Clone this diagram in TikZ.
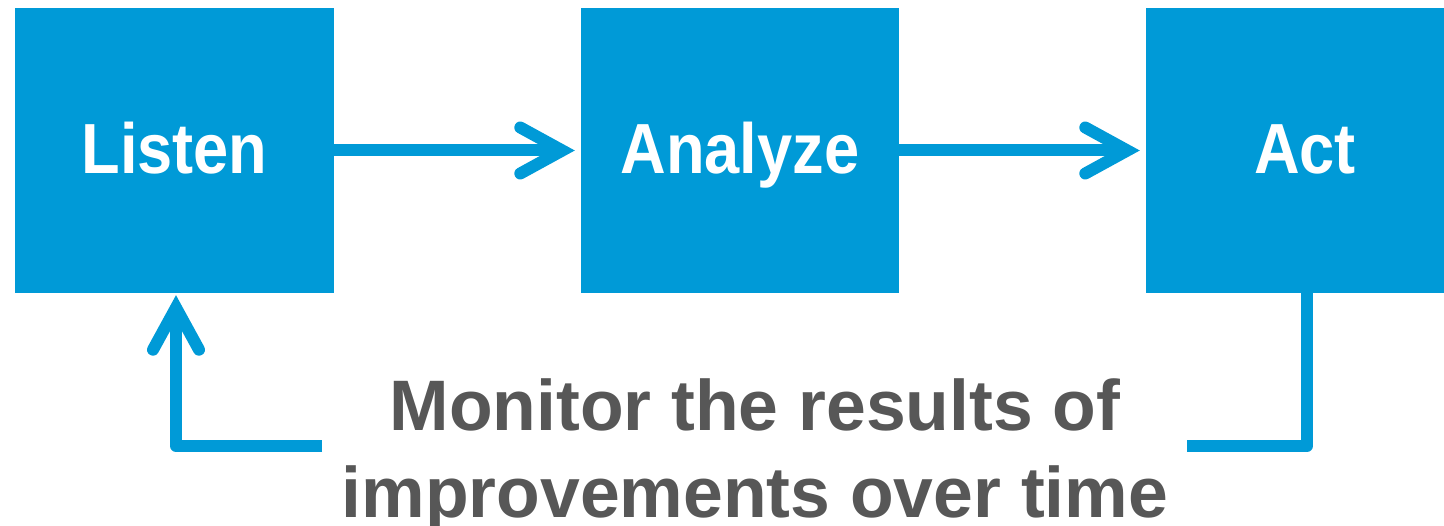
\documentclass[tikz,border=0pt]{standalone}
\usepackage{fontspec}
\setmainfont{Liberation Sans}
\newfontfamily\labelfont[FakeStretch=0.89]{Liberation Sans}
\usetikzlibrary{arrows.meta}
\definecolor{flowblue}{HTML}{009AD7}
\definecolor{notegray}{HTML}{575757}
\tikzset{
  stagebox/.style={rectangle, fill=flowblue, draw=none, inner sep=0pt,
    minimum width=318pt, minimum height=285pt,
    text height=62pt, text depth=15pt,
    text=white, font=\labelfont\bfseries\fontsize{71}{80}\selectfont},
  flowline/.style={draw=flowblue, line width=12pt, line join=round, line cap=butt},
  flowarrow/.style={flowline,
    -{Straight Barb[length=42pt, width=46pt, line cap=round, line join=miter]}},
  notetext/.style={text=notegray, align=center, inner sep=0pt,
    font=\bfseries\fontsize{71.5}{87}\selectfont}
}
\begin{document}
\begin{tikzpicture}[x=1pt, y=-1pt]
  \path[use as bounding box] (0,0) rectangle (1444,526);
  \clip (0,0) rectangle (1444,526);

  % the three stages
  \node[stagebox, minimum width=319pt] (listen)  at (174.5,150.5) {Listen};
  \node[stagebox] (analyze) at (740,150.5) {Analyze};
  \node[stagebox] (act)     at (1305,150.5) {Act};

  % forward flow
  \draw[flowarrow, shorten >=6pt] (listen.east) -- (analyze.west);
  \draw[flowarrow, shorten >=6pt] (analyze.east) -- (act.west);

  % feedback caption
  \node[notetext, anchor=north] (note) at (755,378)
    {Monitor the results of\\improvements over time};

  % feedback loop, broken around the caption
  \coordinate (loopR) at (1187,446);
  \coordinate (loopL) at (322,446);
  \draw[flowline] ([xshift=2pt]act.south) |- (loopR);
  \draw[flowarrow, shorten >=2pt] (loopL) -| ([xshift=1.5pt]listen.south);
\end{tikzpicture}
\end{document}
